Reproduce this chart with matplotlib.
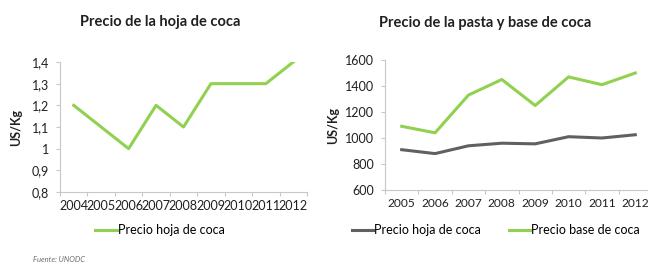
import matplotlib
matplotlib.use("Agg")
import matplotlib.pyplot as plt

plt.rcParams['font.family'] = ['Lato', 'DejaVu Sans']

# Left chart data
years_left = ['2004', '2005', '2006', '2007', '2008', '2009', '2010', '2011', '2012']
hoja_left = [1.2, 1.1, 1.0, 1.2, 1.1, 1.3, 1.3, 1.3, 1.4]
yticks_left = [0.8, 0.9, 1.0, 1.1, 1.2, 1.3, 1.4]
yticklabels_left = ['0,8', '0,9', '1', '1,1', '1,2', '1,3', '1,4']

# Right chart data
years_right = ['2005', '2006', '2007', '2008', '2009', '2010', '2011', '2012']
hoja_right = [910, 880, 940, 960, 955, 1010, 1000, 1025]
base_right = [1090, 1040, 1330, 1450, 1250, 1470, 1410, 1500]
yticks_right = [600, 800, 1000, 1200, 1400, 1600]

GREEN = '#92D050'
GRAY = '#606060'
AX = '#C8C8C8'
LBL = '#202020'

W, H = 648, 266
fig = plt.figure(figsize=(W / 100, H / 100), dpi=100)

def box(x0, y0, x1, y1):
    return [x0 / W, 1 - y1 / H, (x1 - x0) / W, (y1 - y0) / H]

def style(ax, xsize):
    for s in ['top', 'right']:
        ax.spines[s].set_visible(False)
    for s in ['left', 'bottom']:
        ax.spines[s].set_color(AX)
        ax.spines[s].set_linewidth(0.8)
    ax.tick_params(axis='both', colors=AX, labelcolor=LBL, length=3, width=0.8, labelsize=9)
    ax.tick_params(axis='y', pad=5)
    ax.tick_params(axis='x', which='minor', length=0, labelsize=xsize, labelcolor=LBL, pad=6)

# Left
ax1 = fig.add_axes(box(60, 62, 307, 192))
x1 = list(range(len(years_left)))
ax1.plot(x1, hoja_left, color=GREEN, lw=2.2, label='Precio hoja de coca')
ax1.set_xlim(-0.5, len(years_left) - 0.5)
ax1.set_ylim(0.8, 1.4)
ax1.set_yticks(yticks_left)
ax1.set_yticklabels(yticklabels_left)
ax1.set_xticks([i - 0.5 for i in range(len(years_left) + 1)])
ax1.set_xticklabels([])
ax1.set_xticks(x1, minor=True)
ax1.set_xticklabels(years_left, minor=True)
style(ax1, 9.1)
ax1.set_ylabel('US/Kg', fontsize=9, fontweight='bold', color=LBL, labelpad=7)
fig.text(160 / W, 1 - 22 / H, 'Precio de la hoja de coca', ha='center', va='center',
         fontsize=10.5, fontweight='bold', color=LBL)
ax1.legend(loc='center', bbox_to_anchor=(160 / W, 1 - 230 / H), bbox_transform=fig.transFigure,
           frameon=False, fontsize=9, handlelength=1.7, handletextpad=0.1)

# Right
ax2 = fig.add_axes(box(385, 60, 652, 190))
x2 = list(range(len(years_right)))
ax2.plot(x2, hoja_right, color=GRAY, lw=2.2, label='Precio hoja de coca')
ax2.plot(x2, base_right, color=GREEN, lw=2.2, label='Precio base de coca')
ax2.set_xlim(-0.5, len(years_right) - 0.5)
ax2.set_ylim(600, 1600)
ax2.set_yticks(yticks_right)
ax2.set_xticks([i - 0.5 for i in range(len(years_right) + 1)])
ax2.set_xticklabels([])
ax2.set_xticks(x2, minor=True)
ax2.set_xticklabels(years_right, minor=True)
style(ax2, 8.6)
ax2.set_ylabel('US/Kg', fontsize=9, fontweight='bold', color=LBL, labelpad=4)
fig.text(485 / W, 1 - 23 / H, 'Precio de la pasta y base de coca', ha='center', va='center',
         fontsize=10.5, fontweight='bold', color=LBL)
fig.legend(handles=ax2.get_lines(), loc='center', bbox_to_anchor=(496 / W, 1 - 230 / H), ncol=2,
           frameon=False, fontsize=9, handlelength=1.7, handletextpad=0.1, columnspacing=2.2)

fig.text(33 / W, 1 - 259 / H, 'Fuente: UNODC', fontsize=5.5, style='italic', color='#707070',
         ha='left', va='center')

fig.savefig('out.png', dpi=100)
